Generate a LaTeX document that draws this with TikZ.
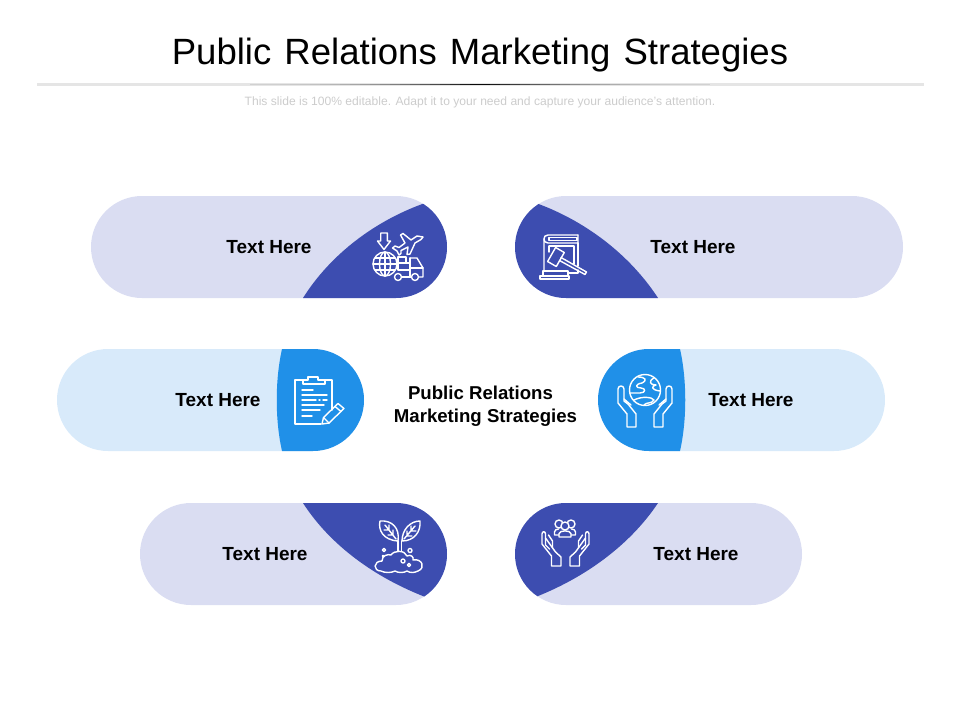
\documentclass[tikz,border=0pt]{standalone}
\usepackage{fontspec}
\setmainfont{Liberation Sans}
\definecolor{palelav}{HTML}{DADDF2}
\definecolor{darkindigo}{HTML}{3D4DB0}
\definecolor{paleblue}{HTML}{D8EAFA}
\definecolor{midblue}{HTML}{2090E8}
\tikzset{
  pilltext/.style={inner sep=0pt,font=\fontsize{10.8pt}{12pt}\selectfont\bfseries,text=black},
  centertext/.style={pilltext,anchor=base,font=\fontsize{10.6pt}{12pt}\selectfont\bfseries},
  iconline/.style={draw=white,line width=0.8pt,line join=round,line cap=round}
}

\begin{document}
\begin{tikzpicture}[x=0.02cm,y=-0.02cm]
\useasboundingbox (0,0) rectangle (960,720);

% Title
\node[inner sep=0pt,anchor=base] (title) at (480,64) {\fontsize{20.8pt}{24pt}\selectfont\spaceskip=0.36em Public Relations Marketing Strategies};
\fill[black!10] (37,83) rectangle (924,85.8);
\foreach \i in {-23,...,22} {
    \pgfmathsetmacro\pct{18+82*(1-abs(\i+0.5)/23)^2}
    \fill[black!\pct] (480+10*\i,84) rectangle (490+10*\i,85);
}
\node[inner sep=0pt,text=black!20] (subtitle) at (480,102) {\fontsize{6.88pt}{8pt}\selectfont This slide is 100\% editable. Adapt it to your need and capture your audience's attention.};

% Pale pills
\foreach \xa/\xb/\ya/\yb/\col in {91/447/196/298/palelav,515/903/196/298/palelav,57/364/349/451/paleblue,598/885/349/451/paleblue,140/447/503/605/palelav,515/802/503/605/palelav} {
    \fill[\col,rounded corners=1.02cm] (\xa,\ya) rectangle (\xb,\yb);
}

% Dark ends
\begin{scope}
\clip[rounded corners=1.02cm] (91,196) rectangle (447,298);
\fill[darkindigo] (303,298) .. controls (330,255) and (375,220) .. (428,202) -- (460,190) -- (460,298) -- cycle;
\end{scope}
\begin{scope}
\clip[rounded corners=1.02cm] (515,196) rectangle (903,298);
\fill[darkindigo] (658,298) .. controls (630,255) and (585,220) .. (533,202) -- (500,190) -- (500,298) -- cycle;
\end{scope}
\begin{scope}
\clip[rounded corners=1.02cm] (57,349) rectangle (364,451);
\fill[midblue] (282,349) .. controls (275,380) and (275,420) .. (282,451) -- (370,451) -- (370,349) -- cycle;
\end{scope}
\begin{scope}
\clip[rounded corners=1.02cm] (598,349) rectangle (885,451);
\fill[midblue] (680,349) .. controls (687,380) and (687,420) .. (680,451) -- (590,451) -- (590,349) -- cycle;
\end{scope}
\begin{scope}
\clip[rounded corners=1.02cm] (140,503) rectangle (447,605);
\fill[darkindigo] (303,503) .. controls (330,545) and (375,578) .. (428,598) -- (460,610) -- (460,503) -- cycle;
\end{scope}
\begin{scope}
\clip[rounded corners=1.02cm] (515,503) rectangle (802,605);
\fill[darkindigo] (658,503) .. controls (630,545) and (585,578) .. (533,598) -- (500,610) -- (500,503) -- cycle;
\end{scope}

% Labels
\node[pilltext] (labela) at (269,247) {Text Here};
\node[pilltext] (labelb) at (693,247) {Text Here};
\node[pilltext] (labelc) at (218,400) {Text Here};
\node[pilltext] (labeld) at (751,400) {Text Here};
\node[pilltext] (labele) at (265,554) {Text Here};
\node[pilltext] (labelf) at (696,554) {Text Here};
\node[centertext] (centera) at (480.5,399) {Public Relations};
\node[centertext] (centerb) at (485.5,422.5) {Marketing Strategies};

% Shipping icon
\draw[iconline] (380.7,233) -- (387.3,233) -- (387.3,241) -- (390.5,241) -- (384,249.5) -- (377.5,241) -- (380.7,241) -- cycle;
\draw[iconline] (385,264) circle (12);
\draw[iconline] (385,264) ellipse (5.5 and 12);
\draw[iconline] (385,252) -- (385,276) (373,264) -- (397,264) (375,258) -- (395,258) (375,270) -- (395,270);
\draw[iconline] (423,237) -- (417,236) -- (411,240) -- (403,233.5) -- (400.5,235) -- (405,243) -- (399,247.5) -- (395,246) -- (392.5,248) -- (397,251) -- (399,255) -- (401,253.5) -- (401,250.5) -- (408,247) -- (407,254.5) -- (410,254) -- (415,243) -- (421,239.5) -- cycle;
\draw[iconline,fill=darkindigo] (398,257) rectangle (406,263);
\draw[iconline,fill=darkindigo] (398,263) rectangle (410,270);
\draw[iconline] (410,258) -- (417,258) -- (423,268) -- (423,277) -- (419,277);
\draw[iconline] (410,258) -- (410,277) (410,268) -- (423,268) (401.5,277) -- (411,277);
\draw[iconline,fill=darkindigo] (398,277) circle (3.5);
\draw[iconline,fill=darkindigo] (415,277) circle (3.5);

% Law book icon
\draw[iconline] (578,235) -- (548,235) .. controls (545,235) and (544,237) .. (544,239) -- (544,272) -- (546,272);
\draw[iconline] (578,235) -- (578,243) -- (548,243) .. controls (545,243) and (544,241) .. (544,239);
\draw[iconline] (549,237.5) rectangle (577,240.5);
\draw[iconline] (578,243) -- (578,266) (549,246) -- (574,246) -- (574,264) (549,246) -- (549,252) (566,273) -- (578,273) -- (578,270);
\draw[iconline,fill=darkindigo] (564.3,252.5) -- (555.6,247.5) -- (547.6,261.5) -- (556.3,266.5) -- cycle;
\draw[iconline] (561,257.5) -- (586.5,272) -- (585,274.5) -- (559.5,260.5);
\draw[iconline,fill=darkindigo] (543,271) rectangle (568,276);
\draw[iconline,fill=darkindigo] (540,276) rectangle (569,279);

% Clipboard icon
\draw[iconline] (321,424) -- (295,424) -- (295,380) -- (303,380);
\draw[iconline] (325,380) -- (332,380) -- (332,410);
\draw[iconline] (303,384) -- (303,380) -- (308,380) -- (308,377) -- (318,377) -- (318,380) -- (325,380) -- (325,384) -- cycle;
\draw[iconline] (302,390) -- (313,390) (302,395) -- (327,395) (302,400) -- (316,400) (319,400) -- (320,400) (323,400) -- (327,400) (302,405) -- (324,405) (302,410) -- (320,410) (302,416) -- (312,416);
\draw[iconline] (322,424) -- (323.5,417.5) -- (338,403.5) -- (344,408.5) -- (329,423) -- cycle;
\draw[iconline] (335,406.5) -- (341,411.5) (323.5,417.5) -- (329,423);

% Globe in hands icon
\draw[iconline] (645,390) circle (15.5);
\draw[iconline] (638,377) .. controls (645,377) and (648,380) .. (642,383) .. controls (635,384) and (635,388) .. (641,388) .. controls (646,388) and (646,393) .. (640,393) -- (630,393);
\draw[iconline] (654,378) .. controls (648,381) and (650,385) .. (656,385) .. controls (651,386) and (651,390) .. (660,391);
\draw[iconline] (634,400) .. controls (642,396) and (652,397) .. (654,400) .. controls (652,404) and (646,402) .. (644,405);
\foreach \sgn in {1,-1} {
\begin{scope}[shift={(645,0)},xscale=\sgn]
\draw[iconline] (-18,427) -- (-18,414) -- (-27,403) -- (-27,389) .. controls (-27,385) and (-21,385) .. (-21,389) -- (-21,401) -- (-17,404) -- (-9,414) -- (-9,427) -- cycle;
\draw[iconline] (-21,399) -- (-14,405);
\end{scope}
}

% Plant icon
\draw[iconline] (398,541) .. controls (383,540) and (378,530) .. (380,521) .. controls (392,520) and (400,528) .. (398,541) -- cycle;
\draw[iconline] (402,541) .. controls (402,530) and (410,521) .. (420,521) .. controls (421,532) and (414,541) .. (402,541) -- cycle;
\draw[iconline] (396,539) -- (385,525) (389,530) -- (389,525) (389,530) -- (384,530) (393,535) -- (393,530) (393,535) -- (388,535);
\draw[iconline] (404,539) -- (415,526) (411,531) -- (411,526) (411,531) -- (416,531) (407,536) -- (407,531) (407,536) -- (412,536);
\draw[iconline] (398,541) -- (398,551) (401.5,541) -- (401.5,551);
\draw[iconline] (381,571) .. controls (373,571) and (373,561) .. (382,561) .. controls (382,555) and (388,554) .. (391,555) .. controls (394,550) and (405,550) .. (407,556) .. controls (411,554) and (414,557) .. (413,560) .. controls (422,558) and (426,568) .. (418,571) .. controls (414,573) and (410,573) .. (407,571) .. controls (404,573) and (398,573) .. (395,571) .. controls (391,573) and (385,573) .. (381,571) -- cycle;
\foreach \cx/\cy/\rad in {384/550/1.6,410/550.5/2,403/561/2,409/565/1.6,383/556/0.6} {
    \draw[iconline] (\cx,\cy) circle (\rad);
}

% Community hands icon
\draw[iconline] (559,524) circle (4);
\draw[iconline] (571,524) circle (4);
\draw[iconline,fill=darkindigo] (565,526) circle (4);
\draw[iconline] (559,537) -- (559,533.5) .. controls (560,530) and (570,530) .. (571,533.5) -- (571,537) -- cycle;
\draw[iconline] (559,535) -- (554.5,535) -- (554.5,532) .. controls (554.5,530) and (556.5,529) .. (558.5,529);
\draw[iconline] (571,535) -- (575.5,535) -- (575.5,532) .. controls (575.5,530) and (573.5,529) .. (571.5,529);
\foreach \sgn in {1,-1} {
\begin{scope}[shift={(565.5,0)},xscale=\sgn]
\draw[iconline] (-14,566) -- (-14,556) -- (-23.5,544) -- (-23.5,534) .. controls (-23.5,531) and (-20,531) .. (-20,534) -- (-20,538) -- (-10,552) -- (-4.5,557) -- (-4.5,566) -- cycle;
\draw[iconline] (-20,538) -- (-20,545) -- (-16,549) (-17,535) -- (-13,541) -- (-13,548);
\end{scope}
}
\end{tikzpicture}
\end{document}
